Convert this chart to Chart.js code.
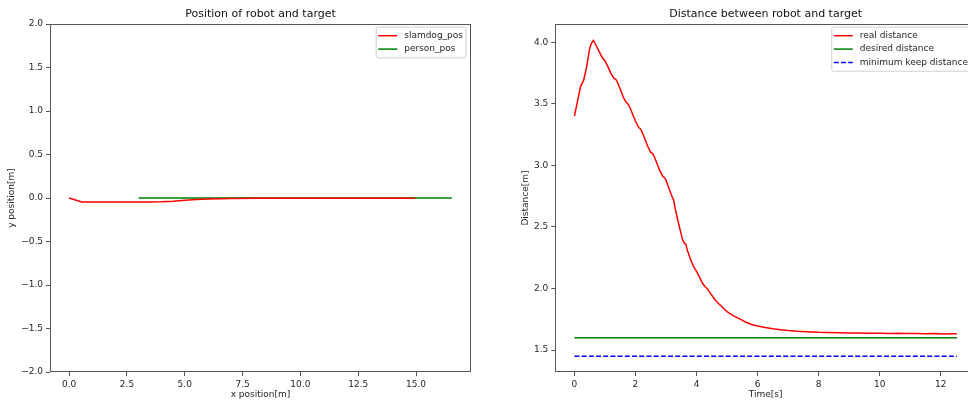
<!DOCTYPE html>
<html>
<head>
<meta charset="utf-8">
<script src="https://cdn.jsdelivr.net/npm/chart.js@4.4.1/dist/chart.umd.min.js"></script>
<style>
  html, body { margin: 0; padding: 0; background: #fff; overflow: hidden; width: 968px; height: 403px; }
  #wrap { position: relative; width: 968px; height: 403px; overflow: hidden; }
  #left { position: absolute; left: 0; top: 0; }
  #right { position: absolute; left: 484px; top: 0; }
</style>
</head>
<body>
<div id="wrap">
  <canvas id="left" width="484" height="403"></canvas>
  <canvas id="right" width="500" height="403"></canvas>
</div>
<script>
// ---------- Left chart data: positions ----------
const slamdogX = [0.0, 0.55, 1.5, 2.5, 3.5, 4.0, 4.5, 5.0, 5.5, 6.0, 6.5, 7.0, 8.0, 9.0, 10.0, 12.0, 14.96];
const slamdogY = [0.0, -0.045, -0.045, -0.045, -0.045, -0.042, -0.036, -0.026, -0.017, -0.011, -0.008, -0.006, -0.004, -0.004, -0.003, -0.003, -0.003];
const personX = [3.0, 16.55];
const personY = [0.0, 0.0];
const leftXTicks = [0, 2.5, 5, 7.5, 10, 12.5, 15];
const leftYTicks = [-2, -1.5, -1, -0.5, 0, 0.5, 1, 1.5, 2];

// ---------- Right chart data: distances ----------
const timeS = [0, 0.1, 0.2, 0.3, 0.4, 0.5, 0.55, 0.62, 0.7, 0.8, 0.9, 0.95, 1.0, 1.1, 1.2, 1.3, 1.35, 1.4, 1.5, 1.6, 1.7, 1.75, 1.8, 1.9,
  2.0, 2.1, 2.15, 2.2, 2.3, 2.4, 2.5, 2.55, 2.6, 2.7, 2.8, 2.9, 2.95, 3.0, 3.1, 3.2, 3.25, 3.3, 3.4, 3.5, 3.55, 3.6, 3.65, 3.7, 3.8, 3.9, 3.95,
  4.0, 4.1, 4.2, 4.3, 4.35, 4.4, 4.5, 4.6, 4.7, 4.8, 4.9, 5.0, 5.2, 5.4, 5.6, 5.8, 6.0, 6.25, 6.5, 6.75, 7.0,
  7.3, 7.6, 8.0, 8.3, 8.7, 9.0, 9.3, 9.6, 10.0, 10.3, 10.6, 10.9, 11.2, 11.5, 11.8, 12.1, 12.35, 12.53];
const realDist = [3.40, 3.52, 3.64, 3.69, 3.80, 3.95, 3.99, 4.015, 3.98, 3.93, 3.88, 3.865, 3.85, 3.80, 3.745, 3.705, 3.70, 3.68, 3.62, 3.555, 3.51, 3.50, 3.48, 3.42,
  3.36, 3.31, 3.30, 3.28, 3.22, 3.155, 3.105, 3.10, 3.08, 3.02, 2.955, 2.91, 2.90, 2.88, 2.81, 2.745, 2.72, 2.65, 2.54, 2.44, 2.39, 2.37, 2.36, 2.31, 2.24, 2.18, 2.16,
  2.14, 2.09, 2.04, 2.01, 2.00, 1.98, 1.945, 1.91, 1.882, 1.86, 1.835, 1.812, 1.78, 1.755, 1.728, 1.708, 1.695, 1.683, 1.673, 1.665, 1.658,
  1.652, 1.649, 1.644, 1.642, 1.641, 1.639, 1.639, 1.637, 1.637, 1.635, 1.636, 1.634, 1.635, 1.632, 1.634, 1.631, 1.633, 1.632];
const desiredT = [0, 12.53];
const desiredDist = [1.6, 1.6];
const minKeepT = [0, 12.53];
const minKeepDist = [1.45, 1.45];
const rightXTicks = [0, 2, 4, 6, 8, 10, 12];
const rightYTicks = [1.5, 2.0, 2.5, 3.0, 3.5, 4.0];

const FONT = '"DejaVu Sans", "Liberation Sans", sans-serif';
const TXT = '#262626';
const SPINE = '#555555';

function pts(xs, ys) { return xs.map((x, i) => ({ x: x, y: ys[i] })); }
function fmtMinus(v, d) { return (v < 0 ? '\u2212' : '') + Math.abs(v).toFixed(d); }

const framePlugin = {
  id: 'frame',
  afterDatasetsDraw(chart) {
    const { ctx, chartArea: a } = chart;
    ctx.save();
    ctx.strokeStyle = SPINE;
    ctx.lineWidth = 1;
    ctx.strokeRect(Math.round(a.left) + 0.5, Math.round(a.top) + 0.5,
      Math.round(a.right - a.left) - 1, Math.round(a.bottom - a.top) - 1);
    ctx.restore();
  }
};

const legendPlugin = {
  id: 'mplLegend',
  afterDraw(chart) {
    const { ctx, chartArea: a } = chart;
    const items = chart.data.datasets.map(d => ({ label: d.label, color: d.borderColor, dash: d.borderDash || [] }));
    ctx.save();
    ctx.font = '9px ' + FONT;
    const textW = Math.max(...items.map(i => ctx.measureText(i.label).width));
    const w = 2 + 19 + 7 + textW + 3;
    const rowH = 13.4;
    const h = 8.7 * 2 + rowH * (items.length - 1);
    const x = a.right - 5 - w;
    const y = a.top + 3;
    const r = 2;
    ctx.beginPath();
    ctx.moveTo(x + r, y);
    ctx.lineTo(x + w - r, y);
    ctx.arcTo(x + w, y, x + w, y + r, r);
    ctx.lineTo(x + w, y + h - r);
    ctx.arcTo(x + w, y + h, x + w - r, y + h, r);
    ctx.lineTo(x + r, y + h);
    ctx.arcTo(x, y + h, x, y + h - r, r);
    ctx.lineTo(x, y + r);
    ctx.arcTo(x, y, x + r, y, r);
    ctx.closePath();
    ctx.fillStyle = 'rgba(255,255,255,0.8)';
    ctx.fill();
    ctx.strokeStyle = '#d0d0d0';
    ctx.lineWidth = 1;
    ctx.stroke();
    items.forEach((it, i) => {
      const ry = y + 8.7 + i * rowH;
      ctx.beginPath();
      ctx.setLineDash(it.dash);
      ctx.strokeStyle = it.color;
      ctx.lineWidth = 1.5;
      ctx.moveTo(x + 2, ry);
      ctx.lineTo(x + 21, ry);
      ctx.stroke();
      ctx.setLineDash([]);
      ctx.fillStyle = TXT;
      ctx.textBaseline = 'middle';
      ctx.textAlign = 'left';
      ctx.fillText(it.label, x + 28, ry);
    });
    ctx.restore();
  }
};

function axisCommon(extra) {
  return Object.assign({
    type: 'linear',
    border: { display: false },
    grid: { display: true, drawOnChartArea: false, drawTicks: true, tickLength: 4, color: SPINE, lineWidth: 1 },
  }, extra);
}

function makeChart(canvas, cfg) {
  return new Chart(canvas, {
    type: 'line',
    data: { datasets: cfg.datasets },
    options: {
      responsive: false,
      animation: false,
      devicePixelRatio: 1,
      events: [],
      layout: { padding: { left: 0, right: cfg.padRight, top: 0, bottom: 0 } },
      elements: { point: { radius: 0 }, line: { tension: 0, borderWidth: 1.5 } },
      plugins: {
        legend: { display: false },
        tooltip: { enabled: false },
        title: {
          display: true, text: cfg.title, fullSize: false, color: '#111',
          font: { family: FONT, size: 11, weight: 'normal', lineHeight: 1.2 },
          padding: { top: 7.9, bottom: 2.9 }
        }
      },
      scales: {
        x: axisCommon({
          min: cfg.xMin, max: cfg.xMax,
          afterBuildTicks: s => { s.ticks = cfg.xTicks.map(v => ({ value: v })); },
          afterFit: s => { s.height = 31; },
          ticks: { autoSkip: false, maxRotation: 0, padding: 3, color: TXT, font: { family: FONT, size: 9 }, callback: cfg.xFmt },
          title: { display: true, text: cfg.xTitle, color: TXT, font: { family: FONT, size: 9, lineHeight: 1.2 }, padding: { top: 0, bottom: 3.2 } }
        }),
        y: axisCommon({
          min: cfg.yMin, max: cfg.yMax,
          afterBuildTicks: s => { s.ticks = cfg.yTicks.map(v => ({ value: v })); },
          afterFit: s => { s.width = cfg.yWidth; },
          ticks: { autoSkip: false, padding: 3, color: TXT, font: { family: FONT, size: 9 }, callback: cfg.yFmt },
          title: { display: true, text: cfg.yTitle, color: TXT, font: { family: FONT, size: 9, lineHeight: 1.2 }, padding: { top: cfg.yTitlePad, bottom: 0 } }
        })
      }
    },
    plugins: [framePlugin, legendPlugin]
  });
}

makeChart(document.getElementById('left'), {
  title: 'Position of robot and target',
  datasets: [
    { label: 'slamdog_pos', data: pts(slamdogX, slamdogY), borderColor: '#ff0000', backgroundColor: '#ff0000', fill: false },
    { label: 'person_pos', data: pts(personX, personY), borderColor: '#008000', backgroundColor: '#008000', fill: false }
  ],
  padRight: 13,
  xMin: -0.8275, xMax: 17.3775, xTicks: leftXTicks, xFmt: v => v.toFixed(1), xTitle: 'x position[m]',
  yMin: -2, yMax: 2, yTicks: leftYTicks, yFmt: v => fmtMinus(v, 1), yTitle: 'y position[m]',
  yWidth: 50, yTitlePad: 6.6
});

makeChart(document.getElementById('right'), {
  title: 'Distance between robot and target',
  datasets: [
    { label: 'real distance', data: pts(timeS, realDist), borderColor: '#ff0000', backgroundColor: '#ff0000', fill: false },
    { label: 'desired distance', data: pts(desiredT, desiredDist), borderColor: '#008000', backgroundColor: '#008000', fill: false },
    { label: 'minimum keep distance', data: pts(minKeepT, minKeepDist), borderColor: '#0000ff', backgroundColor: '#0000ff', borderDash: [5, 2.2], fill: false }
  ],
  padRight: 8,
  xMin: -0.6265, xMax: 13.1565, xTicks: rightXTicks, xFmt: v => String(v), xTitle: 'Time[s]',
  yMin: 1.3215, yMax: 4.1485, yTicks: rightYTicks, yFmt: v => v.toFixed(1), yTitle: 'Distance[m]',
  yWidth: 71.3, yTitlePad: 36.6
});
</script>
</body>
</html>
